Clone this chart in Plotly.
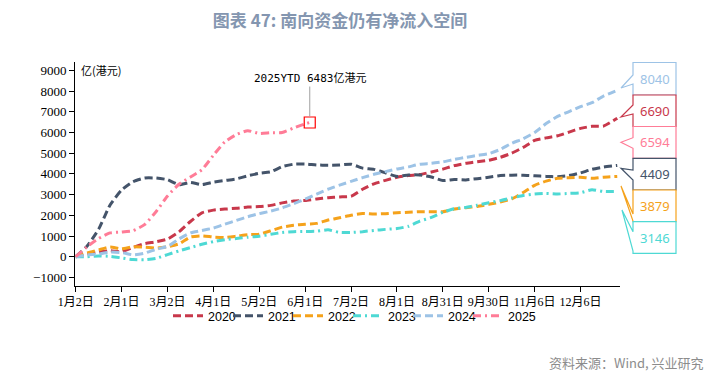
import plotly.graph_objects as go

# ---------------- data (trading-day index, cumulative net inflow 亿港元) ----------------
idx_full = [0, 5, 10, 15, 20, 25, 30, 35, 40, 45, 50, 55, 60, 65, 70, 75, 80, 85, 90, 95,
            100, 105, 110, 115, 120, 125, 130, 135, 140, 145, 150, 155, 160, 165, 170, 175,
            180, 185, 190, 195, 200, 205, 210, 215, 220, 225, 230, 236]

v2020 = [0, 140, 240, 290, 240, 450, 630, 720, 850, 1200, 1700, 2120, 2250, 2300, 2340, 2400,
         2420, 2480, 2600, 2690, 2720, 2790, 2850, 2890, 2920, 3260, 3520, 3690, 3840, 3920,
         3970, 4090, 4230, 4400, 4510, 4590, 4660, 4800, 5000, 5280, 5620, 5740, 5840, 6020,
         6200, 6300, 6310, 6690]
v2021 = [0, 520, 1330, 2500, 3220, 3620, 3800, 3800, 3720, 3480, 3590, 3480, 3600, 3680, 3760,
         3910, 4030, 4100, 4350, 4470, 4480, 4430, 4420, 4430, 4470, 4280, 4220, 4050, 3880,
         3950, 3950, 3850, 3680, 3730, 3710, 3770, 3840, 3920, 3940, 3940, 3910, 3880, 3865,
         3920, 4050, 4220, 4330, 4409]
v2022 = [0, 180, 330, 470, 380, 480, 460, 420, 480, 620, 950, 1010, 950, 930, 990, 1060, 1090,
         1250, 1430, 1520, 1570, 1610, 1770, 1880, 2000, 2090, 2060, 2080, 2120, 2150, 2175,
         2175, 2175, 2300, 2370, 2430, 2530, 2640, 2790, 3100, 3450, 3650, 3790, 3820, 3835,
         3790, 3840, 3879]
v2023 = [0, 0, 40, 20, -60, -140, -150, -80, 100, 280, 440, 600, 730, 820, 880, 940, 990, 1080,
         1170, 1210, 1220, 1230, 1300, 1170, 1170, 1210, 1270, 1320, 1360, 1470, 1720, 1900,
         2140, 2320, 2380, 2490, 2610, 2710, 2840, 2960, 3030, 3060, 3030, 3060, 3090, 3240,
         3150, 3146]
v2024 = [0, 80, 130, 220, 200, 90, 170, 360, 500, 860, 1150, 1270, 1380, 1570, 1750, 1930,
         2080, 2200, 2360, 2560, 2780, 3020, 3260, 3460, 3640, 3820, 3980, 4110, 4240, 4340,
         4470, 4510, 4580, 4700, 4800, 4890, 4980, 5180, 5480, 5700, 6000, 6430, 6780, 7010,
         7250, 7440, 7760, 8040]
idx_2025 = [0, 5, 10, 15, 20, 25, 30, 35, 40, 45, 50, 55, 60, 65, 70, 75, 80, 85, 90, 95, 100, 102]
v2025 = [0, 480, 880, 1150, 1190, 1260, 1550, 2170, 2930, 3500, 3850, 4200, 4900, 5550, 5900,
         6090, 5950, 5990, 6000, 6220, 6420, 6483]

tick_idx = [0, 20, 40, 60, 80, 100, 120, 140, 160, 180, 200, 220]
tick_text = ["1月2日", "2月1日", "3月2日", "4月1日", "5月2日", "6月1日", "7月2日", "8月1日",
             "8月31日", "9月30日", "11月6日", "12月6日"]
y_ticks = [-1000, 0, 1000, 2000, 3000, 4000, 5000, 6000, 7000, 8000, 9000]

end_labels = ["8040", "6690", "6594", "4409", "3879", "3146"]

# ---------------- styles ----------------
C2020 = "#C8384B"
C2021 = "#44546A"
C2022 = "#F5A21B"
C2023 = "#4ED9D4"
C2024 = "#9DC3E6"
C2025 = "#FF7C97"
DASH = "8px,4px"
DASHDOT = "8px,4px,2px,4px"

series = [
    ("2020", idx_full, v2020, C2020, DASH),
    ("2021", idx_full, v2021, C2021, DASH),
    ("2022", idx_full, v2022, C2022, DASH),
    ("2023", idx_full, v2023, C2023, DASHDOT),
    ("2024", idx_full, v2024, C2024, DASH),
    ("2025", idx_2025, v2025, C2025, DASHDOT),
]

# the page body adds an 8px margin, so the figure is laid out 8px smaller / shifted
OFF = 8
W, H = 727 - OFF, 381 - OFF
# plot area in reference-picture pixels
RL, RR, RT, RB = 75, 620, 62, 286
L, R, T, B = RL - OFF, RR - OFF, RT - OFF, RB - OFF

fig = go.Figure()
for name, xs, ys, col, dash in series:
    fig.add_trace(go.Scatter(x=xs, y=ys, name=name, mode="lines",
                             line=dict(color=col, width=3, dash=dash, shape="spline", smoothing=0.5)))
# blank legend slot so the last legend text is not clipped
fig.add_trace(go.Scatter(x=[None], y=[None], name=" ", mode="lines",
                         line=dict(color="rgba(0,0,0,0)", width=0), hoverinfo="skip"))

# marker at latest 2025 point
fig.add_trace(go.Scatter(x=[idx_2025[-1]], y=[v2025[-1]], mode="markers", showlegend=False,
                         marker=dict(symbol="square-open", size=11, color="#FF0000", line=dict(width=1.2))))

fig.add_annotation(x=idx_2025[-1], y=v2025[-1], text="2025YTD 6483亿港元", showarrow=True,
                   arrowhead=0, arrowcolor="#A0A0A0", arrowwidth=1, ax=0, ay=-44, standoff=6,
                   font=dict(family="DejaVu Sans Mono, Noto Sans CJK SC", size=11, color="#000"),
                   yanchor="middle")


def px2paper(px, py):
    """reference-picture pixel -> paper coords"""
    return (px - RL) / (RR - RL), (RB - py) / (RB - RT)


# callout boxes on the right
boxes = [
    # (label, color, y_top, y_bot, base1_y, base2_y, tip_x, tip_y)
    (end_labels[0], C2024, 62.5, 95, 75, 84, 621, 88),
    (end_labels[1], C2020, 95, 126.5, 105, 114, 621, 117),
    (end_labels[2], C2025, 126.5, 158.3, 137.7, 148.3, 621, 142.3),
    (end_labels[3], C2021, 158.3, 190, 170, 180, 621, 168.3),
    (end_labels[4], C2022, 190, 221.7, 214, 221, 621, 186),
    (end_labels[5], C2023, 221.7, 253.3, 231.7, 251, 622, 210),
]
BX0, BX1 = 633, 676
for lab, col, yt, yb, b1, b2, tx, ty in boxes:
    pts = [(BX0, b1), (BX0, yt), (BX1, yt), (BX1, yb), (BX0, yb), (BX0, b2), (tx, ty), (BX0, b1)]
    path = ""
    for i, (a, b) in enumerate(pts):
        xp, yp = px2paper(a, b)
        path += ("M" if i == 0 else "L") + f"{xp:.5f},{yp:.5f}"
    path += "Z"
    fig.add_shape(type="path", path=path, xref="paper", yref="paper",
                  line=dict(color=col, width=1.2), fillcolor="white", layer="above")
    xc, yc = px2paper((BX0 + BX1) / 2, (yt + yb) / 2)
    fig.add_annotation(x=xc, y=yc, xref="paper", yref="paper", text=lab, showarrow=False,
                       xanchor="center", yanchor="middle",
                       font=dict(family="Noto Sans, Liberation Sans", size=13, color=col))

# unit label
xu, yu = px2paper(79, 70)
fig.add_annotation(x=xu, y=yu, xref="paper", yref="paper", text="亿(港元)", showarrow=False,
                   xanchor="left", yanchor="middle",
                   font=dict(family="Noto Sans CJK SC", size=11, color="#000"))

# source
xs_, ys_ = px2paper(706, 362)
fig.add_annotation(x=xs_, y=ys_, xref="paper", yref="paper", text="资料来源：Wind, 兴业研究",
                   showarrow=False, xanchor="right", yanchor="middle",
                   font=dict(family="Noto Sans CJK SC", size=13, color="#8C8C8C"))

lx, ly = px2paper(168, 316)
fig.update_layout(
    width=W, height=H,
    margin=dict(l=L, r=W - R, t=T, b=H - B, autoexpand=False),
    paper_bgcolor="white", plot_bgcolor="white",
    title=dict(text="<b>图表 47: 南向资金仍有净流入空间</b>", x=(340 - OFF) / W, xanchor="center",
               y=1 - (21 - OFF) / H, yanchor="middle",
               font=dict(family="Noto Sans CJK SC", size=17, color="#8496B0")),
    showlegend=True,
    legend=dict(orientation="h", x=lx, y=ly, xanchor="left", yanchor="middle",
                bgcolor="rgba(0,0,0,0)",
                font=dict(family="Liberation Sans, Arial", size=12.5, color="#000"),
                entrywidth=15, entrywidthmode="pixels", itemwidth=30, tracegroupgap=0),
    xaxis=dict(range=[-0.3, 237.2], tickmode="array", tickvals=tick_idx, ticktext=tick_text,
               automargin=False,
               showgrid=False, zeroline=False, showline=True, linecolor="#000", linewidth=1,
               ticks="outside", ticklen=5, tickcolor="#000",
               tickfont=dict(family="Liberation Serif, Noto Sans CJK SC", size=12, color="#000")),
    yaxis=dict(range=[-1415, 9406], tickmode="array", tickvals=y_ticks, automargin=False,
               showgrid=False, zeroline=False, showline=True, linecolor="#000", linewidth=1,
               ticks="outside", ticklen=5, tickcolor="#000",
               tickfont=dict(family="Liberation Serif", size=13, color="#000")),
)

fig.write_html("out.html")
